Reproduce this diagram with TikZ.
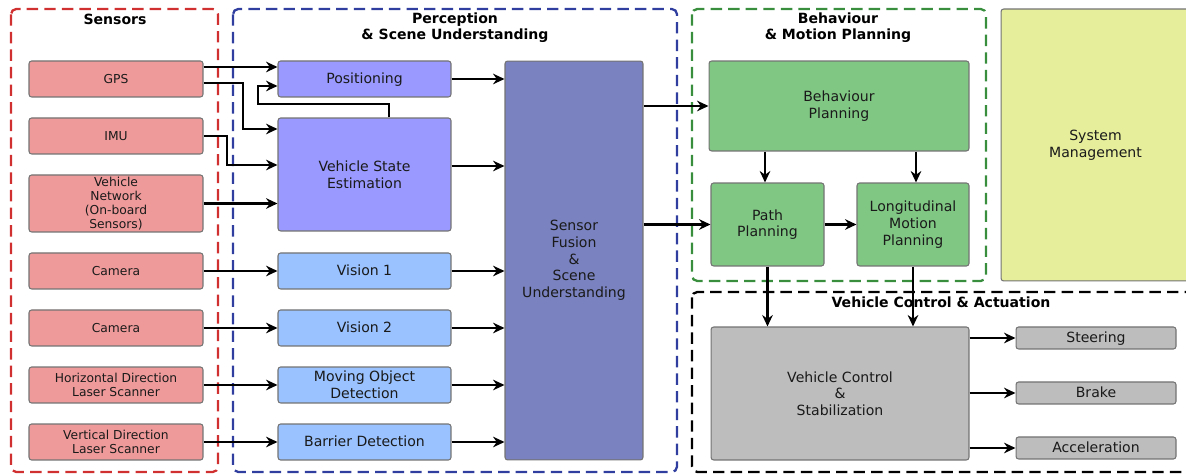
\documentclass[tikz,border=0pt]{standalone}
\usepackage{fontspec}
\setmainfont{DejaVu Sans}
\usetikzlibrary{arrows.meta}

\definecolor{sensfill}{HTML}{EF9A9A}
\definecolor{posfill}{HTML}{9999FF}
\definecolor{visfill}{HTML}{99C2FF}
\definecolor{fusefill}{HTML}{7A82BF}
\definecolor{planfill}{HTML}{81C784}
\definecolor{sysfill}{HTML}{E6EE9C}
\definecolor{ctrlfill}{HTML}{BDBDBD}
\definecolor{framered}{HTML}{D0302F}
\definecolor{frameblue}{HTML}{303F9F}
\definecolor{framegreen}{HTML}{388E3C}
\definecolor{txt}{HTML}{1A1A1A}

\tikzset{
  block/.style={draw=black!55, line width=0.6pt, rounded corners=1.5pt, align=center,
    inner sep=1pt, text=txt, font=\fontsize{8}{9.5}\selectfont},
  oneline/.style={text height=0.72em, text depth=0.2em},
  sensbox/.style={block, fill=sensfill, minimum width=3.48cm, minimum height=0.72cm,
    font=\fontsize{7}{8}\selectfont},
  posbox/.style={block, fill=posfill, minimum width=3.46cm},
  visbox/.style={block, fill=visfill, minimum width=3.46cm, minimum height=0.72cm},
  planbox/.style={block, fill=planfill},
  ctrlbox/.style={block, fill=ctrlfill},
  frame/.style={line width=1.3pt, dash pattern=on 6.5pt off 3.5pt, rounded corners=3pt},
  grouptitle/.style={align=center, inner sep=0pt, font=\fontsize{8}{9.2}\selectfont\bfseries},
  arr/.style={line width=1.4pt, -{Stealth[length=6.5pt,width=6pt]}}
}

\begin{document}
\begin{tikzpicture}[x=0.02cm,y=-0.02cm]
\useasboundingbox (0,0) rectangle (1186,475);

% Group frames
\draw[frame, framered] (11,9) rectangle (218,472);
\draw[frame, frameblue] (233,9) rectangle (677,472);
\draw[frame, framegreen] (692,9) rectangle (986,281);
\draw[frame, black] (692,292) rectangle (1192,472);

\node[grouptitle] (sensTitle) at (115,19) {Sensors};
\node[grouptitle] (percTitle) at (455,28) {Perception\\\& Scene Understanding};
\node[grouptitle] (planTitle) at (838,28) {Behaviour\\\& Motion Planning};
\node[grouptitle] (ctrlTitle) at (941,302) {Vehicle Control \& Actuation};

% Sensors
\node[sensbox, oneline] (gps) at (116,79) {GPS};
\node[sensbox, oneline] (imu) at (116,136) {IMU};
\node[sensbox, minimum height=1.14cm] (vnet) at (116,203.5) {Vehicle\\Network\\(On-board\\Sensors)};
\node[sensbox, oneline] (cam1) at (116,271) {Camera};
\node[sensbox, oneline] (cam2) at (116,328) {Camera};
\node[sensbox] (hlaser) at (116,385) {Horizontal Direction\\Laser Scanner};
\node[sensbox] (vlaser) at (116,442) {Vertical Direction\\Laser Scanner};

% Perception
\node[posbox, oneline, minimum height=0.72cm] (pos) at (364.5,79) {Positioning};
\node[posbox, minimum height=2.26cm] (vse) at (364.5,174.5) {Vehicle State\\Estimation};
\node[visbox, oneline] (vis1) at (364.5,271) {Vision 1};
\node[visbox, oneline] (vis2) at (364.5,328) {Vision 2};
\node[visbox] (mod) at (364.5,385) {Moving Object\\Detection};
\node[visbox, oneline] (bar) at (364.5,442) {Barrier Detection};
\node[block, fill=fusefill, minimum width=2.76cm, minimum height=7.98cm] (fusion) at (574,260.5)
  {Sensor\\Fusion\\\&\\Scene\\Understanding};

% Planning
\node[planbox, minimum width=5.2cm, minimum height=1.8cm] (behav) at (839,106) {Behaviour\\Planning};
\node[planbox, minimum width=2.26cm, minimum height=1.66cm] (path) at (767.5,224.5) {Path\\Planning};
\node[planbox, minimum width=2.24cm, minimum height=1.66cm] (lmp) at (913,224.5) {Longitudinal\\Motion\\Planning};
\node[block, fill=sysfill, minimum width=3.78cm, minimum height=5.44cm] (sysman) at (1095.5,145) {System\\Management};

% Control
\node[ctrlbox, minimum width=5.16cm, minimum height=2.66cm] (vcs) at (840,393.5) {Vehicle Control\\\&\\Stabilization};
\node[ctrlbox, oneline, minimum width=3.2cm, minimum height=0.44cm] (steer) at (1096,338) {Steering};
\node[ctrlbox, oneline, minimum width=3.2cm, minimum height=0.44cm] (brake) at (1096,393) {Brake};
\node[ctrlbox, oneline, minimum width=3.2cm, minimum height=0.44cm] (accel) at (1096,448) {Acceleration};

% Sensors -> perception
\draw[arr] (gps.east |- 0,67) -- (pos.west |- 0,67);
\draw[arr] (gps.east |- 0,83) -| (243,129) -- (vse.west |- 0,129);
\draw[arr] (vse.north -| 389,0) |- (258,104) |- (pos.west |- 0,86);
\draw[arr] (imu.east) -| (227,165) -- (vse.west |- 0,165);
\draw[arr] (vnet.east) -- (vse.west |- vnet.east);
\draw[arr] (cam1.east) -- (vis1.west);
\draw[arr] (cam2.east) -- (vis2.west);
\draw[arr] (hlaser.east) -- (mod.west);
\draw[arr] (vlaser.east) -- (bar.west);

% Perception -> fusion
\draw[arr] (pos.east) -- (fusion.west |- pos.east);
\draw[arr] (vse.east |- 0,166) -- (fusion.west |- 0,166);
\draw[arr] (vis1.east) -- (fusion.west |- vis1.east);
\draw[arr] (vis2.east) -- (fusion.west |- vis2.east);
\draw[arr] (mod.east) -- (fusion.west |- mod.east);
\draw[arr] (bar.east) -- (fusion.west |- bar.east);

% Fusion -> planning -> control
\draw[arr] (fusion.east |- behav.west) -- (behav.west);
\draw[arr] (fusion.east |- path.west) -- (path.west);
\draw[arr] (behav.south -| 765,0) -- (path.north -| 765,0);
\draw[arr] (behav.south -| 916,0) -- (lmp.north -| 916,0);
\draw[arr] (path.east) -- (lmp.west);
\draw[arr] (path.south) -- (path.south |- vcs.north);
\draw[arr] (lmp.south) -- (lmp.south |- vcs.north);
\draw[arr] (vcs.east |- steer.west) -- (steer.west);
\draw[arr] (vcs.east |- brake.west) -- (brake.west);
\draw[arr] (vcs.east |- accel.west) -- (accel.west);
\end{tikzpicture}
\end{document}
